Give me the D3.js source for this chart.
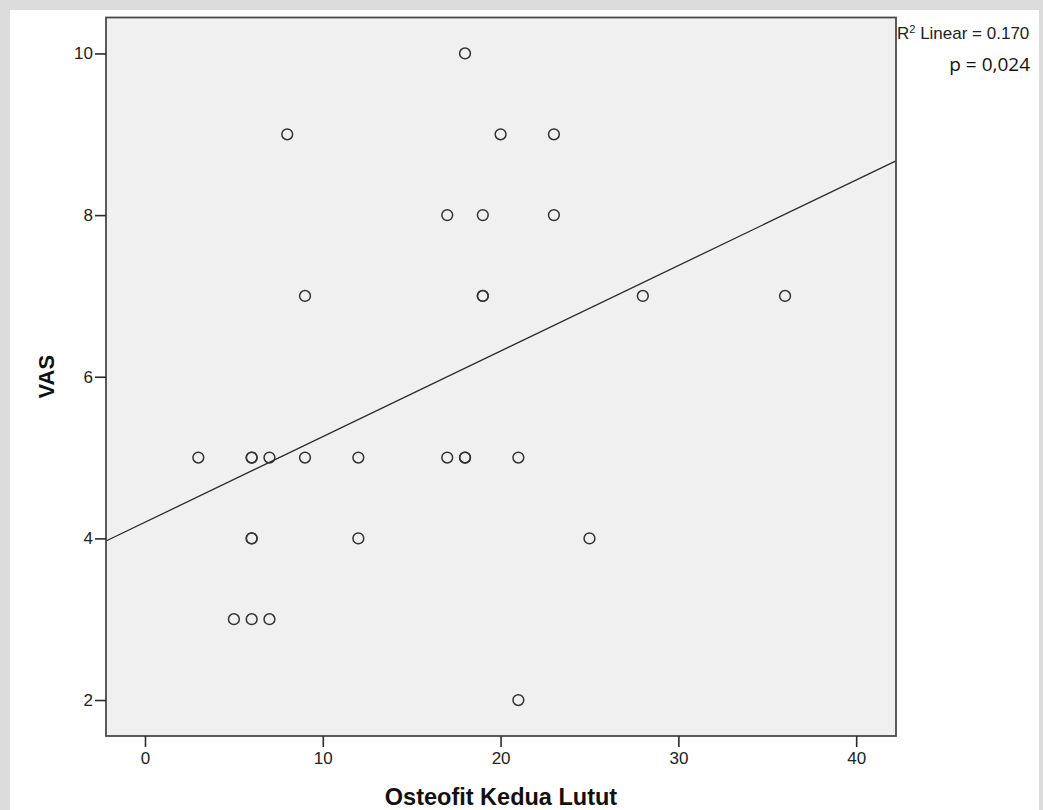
<!DOCTYPE html>
<html>
<head>
<meta charset="utf-8">
<script src="https://cdn.jsdelivr.net/npm/d3@7"></script>
<style>
  body { margin: 0; background: #dcdcdc; }
  svg { display: block; }
</style>
</head>
<body>
<div id="chart"></div>
<script>
// data: Osteofit Kedua Lutut (x) vs VAS (y)
var osteofit = [18, 8, 20, 23, 17, 19, 23, 9, 19, 19, 28, 36, 3, 6, 6, 7, 9, 12, 17, 18, 18, 21, 6, 6, 12, 25, 5, 6, 7, 21];
var vas      = [10, 9, 9, 9, 8, 8, 8, 7, 7, 7, 7, 7, 5, 5, 5, 5, 5, 5, 5, 5, 5, 5, 4, 4, 4, 4, 3, 3, 3, 2];
var xTicks = [0, 10, 20, 30, 40];
var yTicks = [2, 4, 6, 8, 10];
var r2Label = '0.170';
var pLabel = 'p = 0,024';

var width = 1043, height = 810;
var plot = {left: 106, top: 17.5, right: 896, bottom: 736};

var svg = d3.select('#chart').append('svg')
    .attr('width', width)
    .attr('height', height);

// white page behind the chart
svg.append('rect')
    .attr('x', 10).attr('y', 10)
    .attr('width', 1029).attr('height', 800)
    .attr('fill', '#ffffff');

var x = d3.scaleLinear().domain([-2.193, 42.24]).range([plot.left, plot.right]);
var y = d3.scaleLinear().domain([1.555, 10.445]).range([plot.bottom, plot.top]);

svg.append('rect')
    .attr('x', plot.left).attr('y', plot.top)
    .attr('width', plot.right - plot.left)
    .attr('height', plot.bottom - plot.top)
    .attr('fill', '#f0f0f0');

// least squares fit
var mx = d3.mean(osteofit),
    my = d3.mean(vas),
    sxy = d3.sum(osteofit, function(d, i) { return (d - mx) * (vas[i] - my); }),
    sxx = d3.sum(osteofit, function(d) { return (d - mx) * (d - mx); }),
    slope = sxy / sxx,
    intercept = my - slope * mx;

var xd = x.domain();
svg.append('line')
    .attr('x1', x(xd[0])).attr('y1', y(intercept + slope * xd[0]))
    .attr('x2', x(xd[1])).attr('y2', y(intercept + slope * xd[1]))
    .attr('stroke', '#2b2b2b')
    .attr('stroke-width', 1.3);

svg.append('g').selectAll('circle')
    .data(osteofit)
    .enter().append('circle')
    .attr('cx', function(d) { return x(d); })
    .attr('cy', function(d, i) { return y(vas[i]); })
    .attr('r', 5.4)
    .attr('fill', 'none')
    .attr('stroke', '#333')
    .attr('stroke-width', 1.5);

// plot frame
svg.append('rect')
    .attr('x', plot.left).attr('y', plot.top)
    .attr('width', plot.right - plot.left)
    .attr('height', plot.bottom - plot.top)
    .attr('fill', 'none')
    .attr('stroke', '#4a4a4a')
    .attr('stroke-width', 1.8);

var xAxis = svg.append('g')
    .attr('transform', 'translate(0,' + plot.bottom + ')')
    .call(d3.axisBottom(x).tickValues(xTicks).tickSize(11).tickPadding(5));

var yAxis = svg.append('g')
    .attr('transform', 'translate(' + plot.left + ',0)')
    .call(d3.axisLeft(y).tickValues(yTicks).tickSize(11).tickPadding(2));

[xAxis, yAxis].forEach(function(ax) {
    ax.select('.domain').remove();
    ax.selectAll('.tick line').attr('stroke', '#2b2b2b').attr('stroke-width', 1.6);
    ax.selectAll('.tick text')
        .attr('fill', '#222')
        .style('font-family', '"Liberation Sans", Arial, sans-serif')
        .style('font-size', '17px');
});

svg.append('text')
    .attr('x', (plot.left + plot.right) / 2)
    .attr('y', 805)
    .attr('text-anchor', 'middle')
    .style('font-family', '"Liberation Sans", Arial, sans-serif')
    .style('font-size', '23.5px')
    .style('font-weight', 'bold')
    .attr('fill', '#111')
    .text('Osteofit Kedua Lutut');

svg.append('text')
    .attr('transform', 'translate(54,' + ((plot.top + plot.bottom) / 2) + ') rotate(-90)')
    .attr('text-anchor', 'middle')
    .style('font-family', '"Liberation Sans", Arial, sans-serif')
    .style('font-size', '22px')
    .style('font-weight', 'bold')
    .attr('fill', '#111')
    .text('VAS');

var r2 = svg.append('text')
    .attr('x', 897).attr('y', 39)
    .style('font-family', '"Liberation Sans", Arial, sans-serif')
    .style('font-size', '17px')
    .attr('fill', '#222');
r2.append('tspan').text('R');
r2.append('tspan').attr('dy', -6).style('font-size', '11px').text('2');
r2.append('tspan').attr('dy', 6).text(' Linear = ' + r2Label);

svg.append('text')
    .attr('x', 1030).attr('y', 71)
    .attr('text-anchor', 'end')
    .style('font-family', '"Open Sans", sans-serif')
    .style('font-size', '19px')
    .attr('fill', '#111')
    .text(pLabel);
</script>
</body>
</html>
